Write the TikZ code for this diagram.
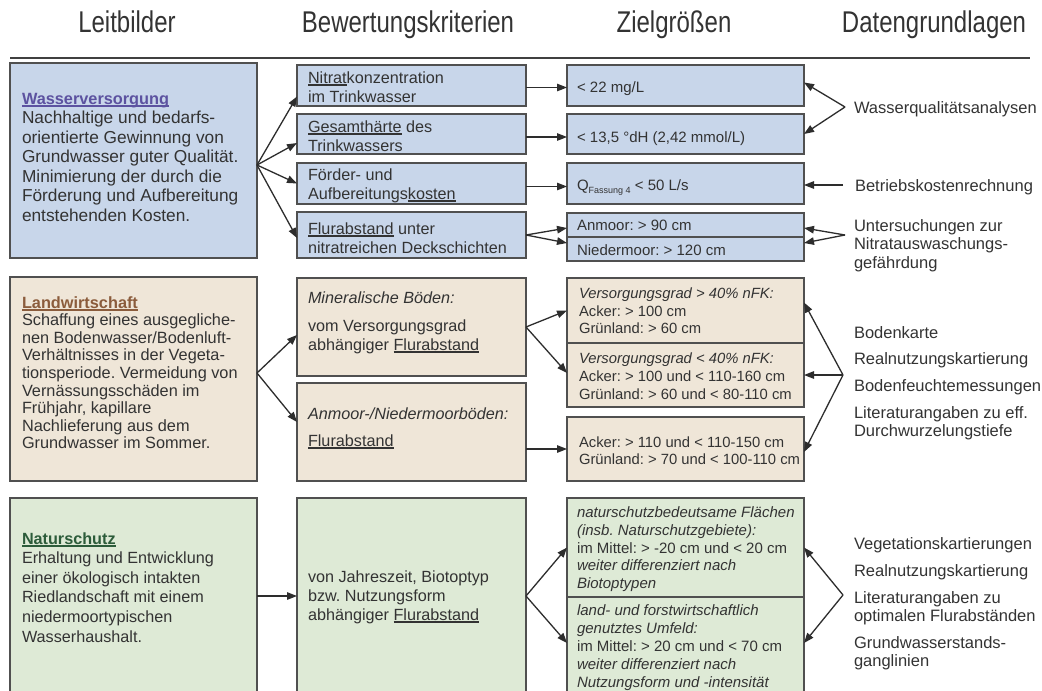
\documentclass[tikz,border=0pt]{standalone}
\usepackage{fontspec}
\setmainfont{Liberation Sans}
\usepackage{graphicx}
\usetikzlibrary{arrows.meta,calc}
\frenchspacing
\definecolor{bluefill}{RGB}{200,214,234}
\definecolor{beigefill}{RGB}{239,230,216}
\definecolor{greenfill}{RGB}{222,234,214}
\definecolor{edge}{RGB}{80,80,80}
\definecolor{txt}{RGB}{51,51,51}
\definecolor{arrowc}{RGB}{45,45,45}
\definecolor{tblue}{RGB}{92,82,160}
\definecolor{tbrown}{RGB}{139,92,60}
\definecolor{tgreen}{RGB}{44,92,58}
\newsavebox\ulbox
\newcommand{\ulin}[2][1.2pt]{\sbox\ulbox{#2}\rlap{\rule[-2.6pt]{\wd\ulbox}{#1}}\usebox\ulbox}
\newcommand{\tblock}[3]{\parbox[t]{300pt}{\frenchspacing\fontsize{#1}{#2}\selectfont\leavevmode #3}}
\begin{document}
\begin{tikzpicture}[x=1pt,y=-1pt,
  bx/.style={draw=edge, line width=1.1pt, anchor=north west, inner sep=0pt, outer sep=0pt},
  wbox/.style={bx, fill=bluefill},
  lbox/.style={bx, fill=beigefill},
  nbox/.style={bx, fill=greenfill},
  tx/.style={anchor=base west, inner sep=0pt, outer sep=0pt, text=txt},
  hdr/.style={anchor=base, inner sep=0pt, text=txt, font=\fontsize{24}{28}\selectfont},
  arr/.style={draw=arrowc, line width=1.3pt, -{Triangle[length=10pt,width=7.5pt]}},
]
\useasboundingbox (0,0) rectangle (1042,691);
\fill[white] (0,0) rectangle (1042,691);

% headers
\node[hdr] (h1) at (127,32) {\scalebox{1}[1.25]{Leitbilder}};
\node[hdr] (h2) at (408,32) {\scalebox{1}[1.25]{Bewertungskriterien}};
\node[hdr] (h3) at (674,32) {\scalebox{1}[1.25]{Zielgrößen}};
\node[hdr] (h4) at (934,32) {\scalebox{1}[1.25]{Datengrundlagen}};
\coordinate (r0) at (10,58);
\coordinate (r1) at (1030,58);
\draw[line width=2.5pt, draw=black!75] (r0) -- (r1);

% column 1
\node[wbox, minimum width=247pt, minimum height=195pt] (A1) at (10,63) {};
\node[lbox, minimum width=247pt, minimum height=204pt] (A2) at (10,277) {};
\node[nbox, minimum width=247pt, minimum height=196pt] (A3) at (10,498) {};

% column 2
\node[wbox, minimum width=229pt, minimum height=41pt] (B1) at (297,65) {};
\node[wbox, minimum width=229pt, minimum height=40pt] (B2) at (297,114) {};
\node[wbox, minimum width=229pt, minimum height=41pt] (B3) at (297,163) {};
\node[wbox, minimum width=229pt, minimum height=46pt] (B4) at (297,212) {};
\node[lbox, minimum width=229pt, minimum height=98pt] (B5) at (297,278) {};
\node[lbox, minimum width=229pt, minimum height=98pt] (B6) at (297,383) {};
\node[nbox, minimum width=229pt, minimum height=196pt] (B7) at (297,498) {};

% column 3
\node[wbox, minimum width=237pt, minimum height=41pt] (C1) at (567,65) {};
\node[wbox, minimum width=237pt, minimum height=40pt] (C2) at (567,114) {};
\node[wbox, minimum width=237pt, minimum height=41pt] (C3) at (567,163) {};
\node[wbox, minimum width=237pt, minimum height=24pt] (C4a) at (567,213) {};
\node[wbox, minimum width=237pt, minimum height=24pt] (C4b) at (567,237) {};
\node[lbox, minimum width=237pt, minimum height=65pt] (C5a) at (567,278) {};
\node[lbox, minimum width=237pt, minimum height=64pt] (C5b) at (567,343) {};
\node[lbox, minimum width=237pt, minimum height=64pt] (C6) at (567,417) {};
\node[nbox, minimum width=237pt, minimum height=99pt] (C7a) at (567,498) {};
\node[nbox, minimum width=237pt, minimum height=97pt] (C7b) at (567,597) {};

% texts column 1
\node[tx] (tA1) at (22,104) {\tblock{17.3}{19.5}{{\color{tblue}\fontsize{16.3}{19.5}\selectfont\bfseries\ulin[1.6pt]{Wasserversorgung}}\\
Nachhaltige und bedarfs-\\ orientierte Gewinnung von\\ Grundwasser guter Qualität.\\ Minimierung der durch die\\ Förderung und Aufbereitung\\ entstehenden Kosten.}};
\node[tx] (tA2) at (22,308) {\tblock{16.3}{17.6}{{\color{tbrown}\bfseries\ulin[1.6pt]{Landwirtschaft}}\\
Schaffung eines ausgegliche-\\ nen Bodenwasser/Bodenluft-\\ Verhältnisses in der Vegeta-\\ tionsperiode. Vermeidung von\\ Vernässungsschäden im\\ Frühjahr, kapillare\\ Nachlieferung aus dem\\ Grundwasser im Sommer.}};
\node[tx] (tA3) at (22,544) {\tblock{16.2}{19.6}{{\color{tgreen}\bfseries\ulin[1.6pt]{Naturschutz}}\\
Erhaltung und Entwicklung\\ einer ökologisch intakten\\ Riedlandschaft mit einem\\ niedermoortypischen\\ Wasserhaushalt.}};

% texts column 2
\node[tx] (tB1) at (308,83) {\tblock{16.2}{19}{\ulin{Nitrat}konzentration\\ im Trinkwasser}};
\node[tx] (tB2) at (308,132) {\tblock{16.2}{19}{\ulin{Gesamthärte} des\\ Trinkwassers}};
\node[tx] (tB3) at (308,180) {\tblock{16.2}{19}{Förder- und\\ Aufbereitungs\ulin{kosten}}};
\node[tx] (tB4) at (308,234) {\tblock{16.2}{19}{\ulin{Flurabstand} unter\\ nitratreichen Deckschichten}};
\node[tx] (tB5) at (308,303) {\tblock{16.2}{19}{\textit{Mineralische Böden:}\\[9pt] vom Versorgungsgrad\\ abhängiger \ulin{Flurabstand}}};
\node[tx] (tB6) at (308,419) {\tblock{16.2}{19}{\textit{Anmoor-/Niedermoorböden:}\\[8pt] \ulin{Flurabstand}}};
\node[tx] (tB7) at (308,582) {\tblock{16.2}{19}{von Jahreszeit, Biotoptyp\\ bzw. Nutzungsform\\ abhängiger \ulin{Flurabstand}}};

% texts column 3
\node[tx] (tC1) at (577,92.5) {\tblock{15}{17}{< 22 mg/L}};
\node[tx] (tC2) at (577,142.5) {\tblock{15}{17}{< 13,5 °dH (2,42 mmol/L)}};
\node[tx] (tC3) at (577,190.5) {\tblock{15}{17}{Q\raisebox{-3pt}{\fontsize{9}{10}\selectfont Fassung 4} < 50 L/s}};
\node[tx] (tC4a) at (577,230.5) {\tblock{15}{17}{Anmoor: > 90 cm}};
\node[tx] (tC4b) at (577,255.5) {\tblock{15}{17}{Niedermoor: > 120 cm}};
\node[tx] (tC5a) at (579,298.5) {\tblock{14.8}{17.5}{\textit{Versorgungsgrad > 40\% nFK:}\\ Acker: > 100 cm\\ Grünland: > 60 cm}};
\node[tx] (tC5b) at (579,363.5) {\tblock{14.8}{18}{\textit{Versorgungsgrad < 40\% nFK:}\\ Acker: > 100 und < 110-160 cm\\ Grünland: > 60 und < 80-110 cm}};
\node[tx] (tC6) at (579,447.5) {\tblock{14.8}{17}{Acker: > 110 und < 110-150 cm\\ Grünland: > 70 und < 100-110 cm}};
\node[tx] (tC7a) at (577,517.5) {\tblock{15}{17.8}{\textit{naturschutzbedeutsame Flächen}\\ \textit{(insb. Naturschutzgebiete):}\\ im Mittel: > -20 cm und < 20 cm\\ \textit{weiter differenziert nach}\\ \textit{Biotoptypen}}};
\node[tx] (tC7b) at (577,615.5) {\tblock{15}{18}{\textit{land- und forstwirtschaftlich}\\ \textit{genutztes Umfeld:}\\ im Mittel: > 20 cm und < 70 cm\\ \textit{weiter differenziert nach}\\ \textit{Nutzungsform und -intensität}}};

% texts column 4
\node[tx] (tD1) at (854,113) {\tblock{16.5}{18.5}{Wasserqualitätsanalysen}};
\node[tx] (tD2) at (855,191) {\tblock{16.5}{18.5}{Betriebskostenrechnung}};
\node[tx] (tD3) at (854,231) {\tblock{16.5}{18.5}{Untersuchungen zur\\ Nitratauswaschungs-\\ gefährdung}};
\node[tx] (tD4a) at (854,338) {\tblock{16.5}{18}{Bodenkarte}};
\node[tx] (tD4b) at (854,364) {\tblock{16.5}{18}{Realnutzungskartierung}};
\node[tx] (tD4c) at (854,391) {\tblock{16.5}{18}{Bodenfeuchtemessungen}};
\node[tx] (tD4d) at (854,418) {\tblock{16.5}{18}{Literaturangaben zu eff.\\ Durchwurzelungstiefe}};
\node[tx] (tD5a) at (854,549) {\tblock{16.5}{18}{Vegetationskartierungen}};
\node[tx] (tD5b) at (854,576) {\tblock{16.5}{18}{Realnutzungskartierung}};
\node[tx] (tD5c) at (854,603) {\tblock{16.5}{18}{Literaturangaben zu\\ optimalen Flurabständen}};
\node[tx] (tD5d) at (854,648) {\tblock{16.5}{18}{Grundwasserstands-\\ ganglinien}};

% connectors section 1
\coordinate (a1) at ($(A1.east)+(0,4.5)$);
\draw[arr] (a1) -- ($(B1.west)+(0,11)$);
\draw[arr] (a1) -- ($(B2.west)+(0,9)$);
\draw[arr] (a1) -- (B3.west);
\draw[arr] (a1) -- ($(B4.west)+(0,3)$);
\draw[arr] ($(B1.east)+(0,2)$) -- ($(C1.west)+(0,2)$);
\draw[arr] ($(B2.east)+(0,3)$) -- ($(C2.west)+(0,3)$);
\draw[arr] ($(B3.east)+(0,3)$) -- ($(C3.west)+(0,3)$);
\draw[arr] (B4.east) -- ($(C4a.west)+(0,3)$);
\draw[arr] (B4.east) -- ($(C4b.west)+(0,-6)$);
\coordinate (q1) at (845,107);
\coordinate (q2) at (843,185);
\coordinate (q3) at (845,235);
\draw[arr] (q1) -- ($(C1.east)+(0,-3)$);
\draw[arr] (q1) -- (C2.east);
\draw[arr] (q2) -- (C3.east |- q2);
\draw[arr] (q3) -- ($(C4a.east)+(0,3)$);
\draw[arr] (q3) -- ($(C4b.east)+(0,-6)$);

% connectors section 2
\coordinate (a2) at ($(A2.east)+(0,-6)$);
\draw[arr] (a2) -- ($(B5.west)+(0,8)$);
\draw[arr] (a2) -- ($(B6.west)+(0,-10)$);
\draw[arr] (B5.east) -- (C5a.west);
\draw[arr] (B5.east) -- ($(C5b.west)+(0,-2)$);
\draw[arr] (C6.west -| B6.east) -- (C6.west);
\coordinate (q4) at (843,375);
\draw[arr] (q4) -- ($(C5a.east)+(0,-8)$);
\draw[arr] (q4) -- (C5b.east);
\draw[arr] (q4) -- ($(C6.east)+(0,3)$);

% connectors section 3
\draw[arr] (A3.east) -- (B7.west);
\draw[arr] (B7.east) -- (C7a.west);
\draw[arr] (B7.east) -- ($(C7b.west)+(0,-2.5)$);
\coordinate (q5) at (843,595);
\draw[arr] (q5) -- (C7a.east);
\draw[arr] (q5) -- ($(C7b.east)+(0,-2.5)$);
\end{tikzpicture}
\end{document}
